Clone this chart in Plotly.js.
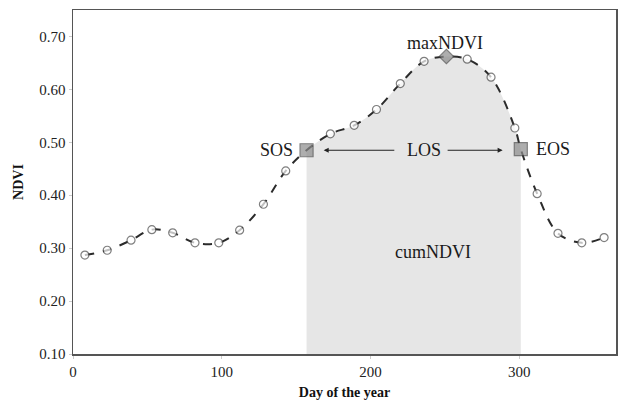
<!DOCTYPE html>
<html>
<head>
<meta charset="utf-8">
<script src="https://cdn.plot.ly/plotly-3.0.1.min.js"></script>
<style>html,body{margin:0;padding:0;background:#fff;}#chart{width:618px;height:400px;}</style>
</head>
<body>
<div id="chart"></div>
<script>
// Day of year and NDVI values
const days = [8, 23, 39, 53, 67, 82, 98, 112, 128, 143, 157, 173, 189, 204, 220, 236, 251, 265, 281, 297, 301, 312, 326, 342, 357];
const ndvi = [0.287, 0.296, 0.315, 0.335, 0.329, 0.310, 0.310, 0.334, 0.383, 0.446, 0.485, 0.516, 0.532, 0.562, 0.611, 0.653, 0.662, 0.657, 0.623, 0.527, 0.487, 0.403, 0.328, 0.310, 0.320];
// point roles: 'obs' regular, 'sos', 'max', 'eos'
const roles = ['obs','obs','obs','obs','obs','obs','obs','obs','obs','obs','sos','obs','obs','obs','obs','obs','max','obs','obs','obs','eos','obs','obs','obs','obs'];
const xTicks = [0, 100, 200, 300];
const yTicks = [0.10, 0.20, 0.30, 0.40, 0.50, 0.60, 0.70];

const sosIdx = roles.indexOf('sos');
const eosIdx = roles.indexOf('eos');
const maxIdx = roles.indexOf('max');

const symbols = roles.map(r => r === 'obs' ? 'circle' : (r === 'max' ? 'diamond' : 'square'));
const sizes = roles.map(r => r === 'obs' ? 8 : (r === 'max' ? 11 : 13));
const fills = roles.map(r => r === 'obs' ? '#ffffff' : '#8c8c8c');

const serif = '"Liberation Serif", "DejaVu Serif", serif';

const fillTrace = {
  x: days.slice(sosIdx, eosIdx + 1),
  y: ndvi.slice(sosIdx, eosIdx + 1),
  type: 'scatter', mode: 'lines',
  line: {width: 0, shape: 'spline', color: 'rgba(0,0,0,0)'},
  fill: 'tozeroy', fillcolor: '#e6e6e6',
  hoverinfo: 'skip', showlegend: false
};
const lineTrace = {
  x: days, y: ndvi,
  type: 'scatter', mode: 'lines+markers',
  line: {color: '#2b2b2b', width: 2, dash: 'dash', shape: 'spline'},
  marker: {symbol: symbols, size: sizes, color: fills, line: {color: '#4a4a4a', width: 1.2}},
  showlegend: false
};

const annFont = {family: serif, size: 18, color: '#1a1a1a'};
const layout = {
  width: 618, height: 400,
  margin: {l: 73, r: 2, t: 10, b: 46},
  paper_bgcolor: '#ffffff', plot_bgcolor: '#ffffff',
  showlegend: false,
  xaxis: {
    range: [0, 365], tickvals: xTicks, ticktext: xTicks.map(String),
    showgrid: false, zeroline: false,
    showline: true, mirror: true, linecolor: '#555555', linewidth: 1.5,
    ticks: 'outside', ticklen: 3, tickcolor: '#cccccc',
    tickfont: {family: serif, size: 15, color: '#222'},
    title: {text: '<b>Day of the year</b>', font: {family: serif, size: 14, color: '#111'}, standoff: 8}
  },
  yaxis: {
    range: [0.10, 0.75], tickvals: yTicks, ticktext: yTicks.map(v => v.toFixed(2)),
    showgrid: false, zeroline: false,
    showline: true, mirror: true, linecolor: '#555555', linewidth: 1.5,
    ticks: 'outside', ticklen: 3, tickcolor: '#cccccc',
    tickfont: {family: serif, size: 15, color: '#222'},
    title: {text: '<b>NDVI</b>', font: {family: serif, size: 14, color: '#111'}, standoff: 12}
  },
  annotations: [
    {x: days[maxIdx] - 1, y: 0.688, text: 'maxNDVI', showarrow: false, font: annFont},
    {x: 137, y: ndvi[sosIdx], text: 'SOS', showarrow: false, font: annFont},
    {x: 322.5, y: ndvi[eosIdx], text: 'EOS', showarrow: false, font: annFont},
    {x: 236, y: ndvi[sosIdx], text: 'LOS', showarrow: false, font: annFont},
    {x: 242, y: 0.293, text: 'cumNDVI', showarrow: false, font: annFont},
    {x: 168.5, y: ndvi[sosIdx], ax: 217, ay: ndvi[sosIdx], axref: 'x', ayref: 'y', text: '',
     showarrow: true, arrowhead: 2, arrowsize: 1, arrowwidth: 1, arrowcolor: '#222'},
    {x: 288.8, y: ndvi[sosIdx], ax: 250.8, ay: ndvi[sosIdx], axref: 'x', ayref: 'y', text: '',
     showarrow: true, arrowhead: 2, arrowsize: 1, arrowwidth: 1, arrowcolor: '#222'}
  ]
};

Plotly.newPlot('chart', [fillTrace, lineTrace], layout, {displayModeBar: false, staticPlot: true});
</script>
</body>
</html>
